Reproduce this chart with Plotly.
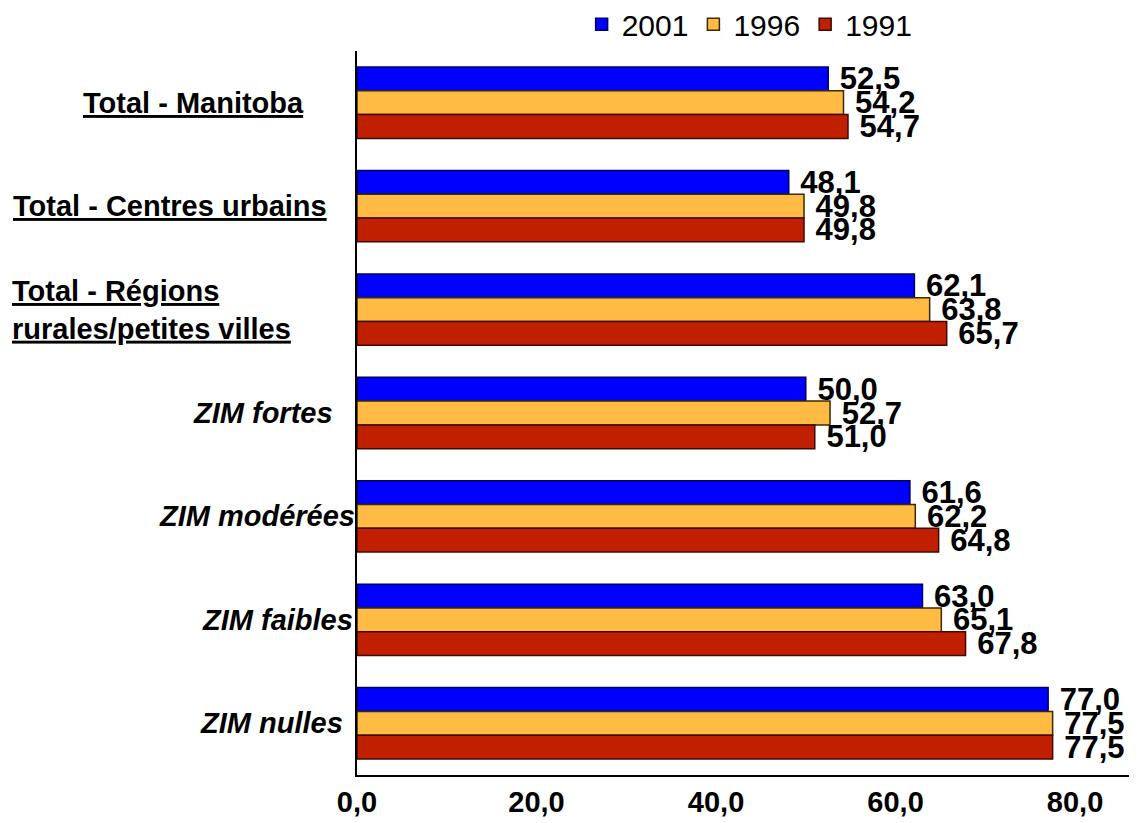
import plotly.graph_objects as go

# categories from top to bottom
categories = [
    "Total - Manitoba",
    "Total - Centres urbains",
    "Total - Régions rurales/petites villes",
    "ZIM fortes",
    "ZIM modérées",
    "ZIM faibles",
    "ZIM nulles",
]
vals_2001 = [52.5, 48.1, 62.1, 50.0, 61.6, 63.0, 77.0]
vals_1996 = [54.2, 49.8, 63.8, 52.7, 62.2, 65.1, 77.5]
vals_1991 = [54.7, 49.8, 65.7, 51.0, 64.8, 67.8, 77.5]
x_ticks = [0, 20, 40, 60, 80]

series = [
    ("2001", vals_2001, "#0000FF", "#000060"),
    ("1996", vals_1996, "#FFBB44", "#3A2A00"),
    ("1991", vals_1991, "#C02000", "#400800"),
]

NARROW = "Liberation Sans Narrow, Arial Narrow, Liberation Sans, Arial, sans-serif"
ARIAL = "Liberation Sans, Arial, sans-serif"

fig = go.Figure()
for name, vals, color, edge in series:
    fig.add_trace(go.Bar(
        y=categories,
        x=vals,
        name=name,
        orientation="h",
        marker=dict(color=color, line=dict(color=edge, width=1.5)),
        texttemplate=" %{x:.1f}",
        textposition="outside",
        constraintext="none",
        cliponaxis=False,
        textfont=dict(family=NARROW, size=31, color="black", weight="bold"),
    ))

# category labels, placed per label like the original (screen px of anchor)
label_style = {
    "Total - Manitoba": dict(text="Total - Manitoba", px=306, anchor="right", italic=False),
    "Total - Centres urbains": dict(text="Total - Centres urbains", px=329, anchor="right", italic=False),
    "Total - Régions rurales/petites villes": dict(text="Total - Régions<br>rurales/petites villes", px=10, anchor="left", italic=False),
    "ZIM fortes": dict(text="ZIM fortes", px=335, anchor="right", italic=True),
    "ZIM modérées": dict(text="ZIM modérées", px=357, anchor="right", italic=True),
    "ZIM faibles": dict(text="ZIM faibles", px=355, anchor="right", italic=True),
    "ZIM nulles": dict(text="ZIM nulles", px=345, anchor="right", italic=True),
}
for cat in categories:
    s = label_style[cat]
    fig.add_annotation(
        x=(s["px"] - 357) / 780, xref="paper", y=cat, yref="y",
        text=s["text"], showarrow=False, xanchor=s["anchor"], align="left",
        font=dict(family=ARIAL, size=29, color="black", weight="bold",
                  style="italic" if s["italic"] else "normal",
                  lineposition="none" if s["italic"] else "under"),
    )

# page body adds an 8px margin, so the figure is 8px smaller each way
fig.update_layout(
    width=1129, height=815,
    margin=dict(l=349, r=0, t=43, b=48),
    plot_bgcolor="white", paper_bgcolor="white",
    barmode="group", bargap=0.31, bargroupgap=0,
    separators=", ",
    showlegend=True,
    legend=dict(orientation="h", x=0.288, xanchor="left",
                yref="container", y=0.98, yanchor="middle",
                font=dict(family=ARIAL, size=30, color="black"),
                traceorder="normal"),
    xaxis=dict(range=[0, 86.9], tickvals=x_ticks, tickformat=".1f",
               showgrid=False, zeroline=False, showline=True, linecolor="black",
               linewidth=1.5, ticks="",
               tickfont=dict(family=NARROW, size=29, color="black", weight="bold")),
    yaxis=dict(autorange="reversed", showticklabels=False, showgrid=False,
               showline=True, linecolor="black", linewidth=1.5, ticks=""),
)

fig.write_html("out.html")
